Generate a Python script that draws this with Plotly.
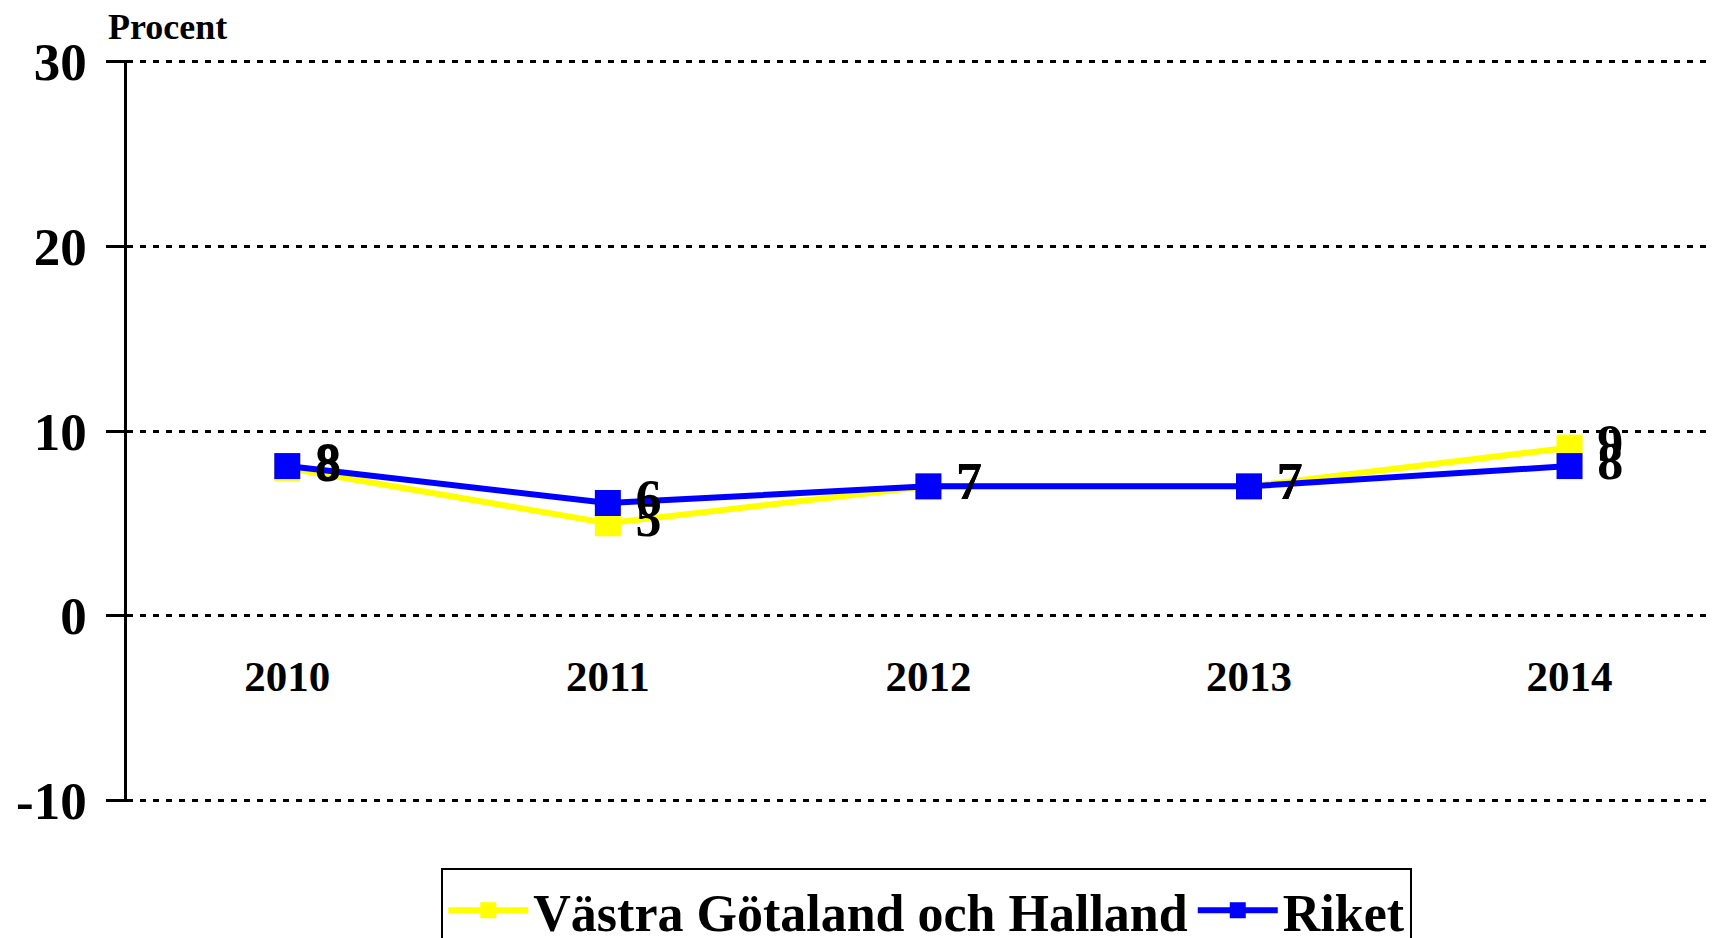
import plotly.graph_objects as go

years = ["2010", "2011", "2012", "2013", "2014"]
vastra = [8.0, 5.0, 7.0, 7.0, 9.1]
riket = [8.1, 6.1, 7.0, 7.0, 8.1]
vastra_labels = ["8", "5", "7", "7", "9"]
riket_labels = ["8", "6", "7", "7", "8"]
y_ticks = [-10, 0, 10, 20, 30]
y_ticklabels = ["-10", "0", "10", "20", "30"]

FONT = "Liberation Serif"
GAP = "\u2009"
Y_RANGE = [-10.1, 30.1]

fig = go.Figure()
fig.add_trace(go.Scatter(
    x=years, y=vastra, name="Västra Götaland och Halland",
    mode="lines+markers+text", text=[GAP + t for t in vastra_labels],
    textposition="middle right",
    textfont=dict(family=FONT, size=52, color="black", weight="bold"),
    line=dict(color="#FFFF00", width=6),
    marker=dict(symbol="square", size=26, color="#FFFF00", line=dict(width=0)),
))
fig.add_trace(go.Scatter(
    x=years, y=riket, name="Riket",
    mode="lines+markers+text", text=[GAP + t for t in riket_labels],
    textposition="middle right",
    textfont=dict(family=FONT, size=52, color="black", weight="bold"),
    line=dict(color="#0000FF", width=6),
    marker=dict(symbol="square", size=26, color="#0000FF", line=dict(width=0)),
))

fig.update_layout(
    width=1715, height=938,
    margin=dict(l=119, r=6, t=52, b=144, autoexpand=False),
    paper_bgcolor="white", plot_bgcolor="white",
    font=dict(family=FONT, color="black", weight="bold"),
    showlegend=True,
    legend=dict(
        orientation="h", x=0.503, xanchor="center", y=-0.089, yanchor="top",
        font=dict(family=FONT, size=52, color="black", weight="bold"),
        bordercolor="black", borderwidth=2, bgcolor="white",
        itemwidth=80,
    ),
    xaxis=dict(
        type="category", range=[-0.5, 4.46],
        anchor="free", position=(0 - Y_RANGE[0]) / (Y_RANGE[1] - Y_RANGE[0]),
        showline=False, showgrid=False, zeroline=False, ticks="",
        tickfont=dict(family=FONT, size=43, color="black", weight="bold"),
        ticklabelstandoff=31, automargin=False,
    ),
    yaxis=dict(
        range=Y_RANGE, tickvals=y_ticks, ticktext=y_ticklabels,
        showline=True, linecolor="black", linewidth=2.5,
        ticks="outside", ticklen=18, tickwidth=2.5, tickcolor="black",
        showgrid=True, gridcolor="black", gridwidth=3, griddash="6px,7px",
        zeroline=False, automargin=False,
        tickfont=dict(family=FONT, size=53, color="black", weight="bold"),
        ticklabelstandoff=9,
    ),
    annotations=[dict(
        text="Procent", xref="paper", yref="paper", x=-0.013, y=1.045,
        xanchor="left", yanchor="middle", showarrow=False,
        font=dict(family=FONT, size=36, color="black", weight="bold"),
    )],
)

fig.write_html("out.html")
